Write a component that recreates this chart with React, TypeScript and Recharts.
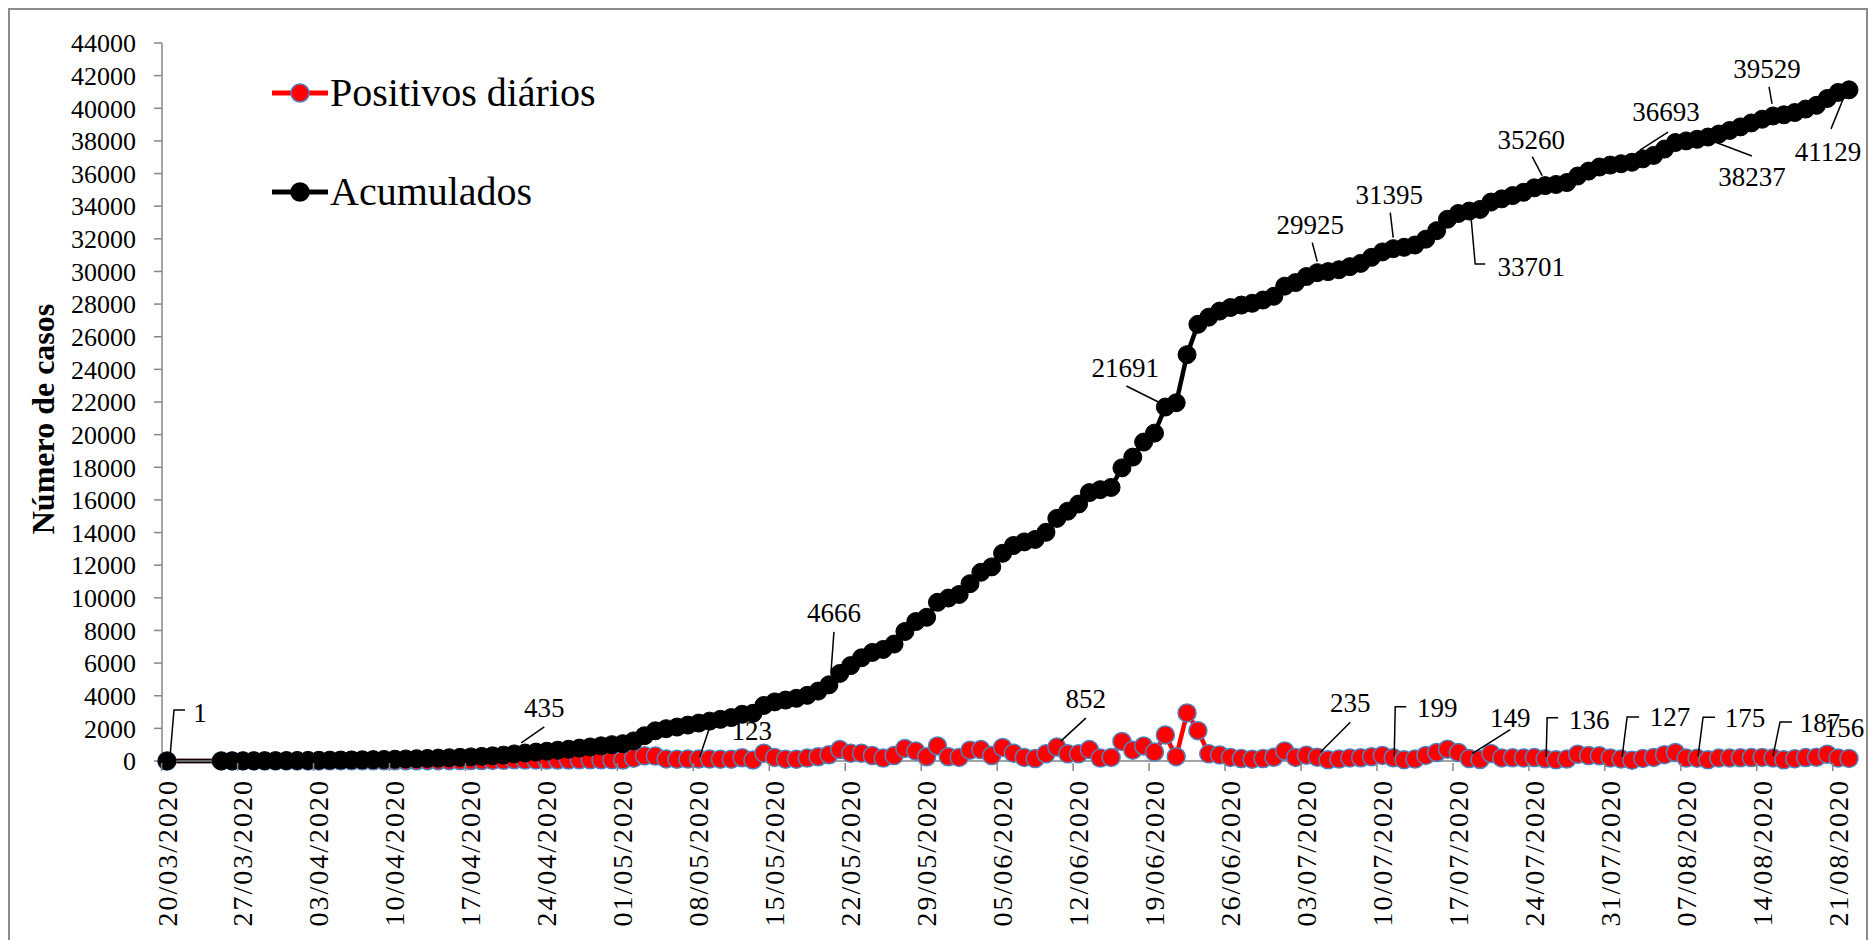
import React from "react";
import { LineChart, Line, XAxis, YAxis, LabelList } from "recharts";

const FONTE = "'Liberation Serif', 'Times New Roman', serif";

// um ponto por dia, de 20/03/2020 a 22/08/2020 (21 a 24/03 sem dados)
const datas: string[] = Array.from({ length: 156 }, (_, i) => {
  const d = new Date(2020, 2, 20 + i);
  const dd = String(d.getDate()).padStart(2, "0");
  const mm = String(d.getMonth() + 1).padStart(2, "0");
  return `${dd}/${mm}/${d.getFullYear()}`;
});

const positivosDiarios: (number | null)[] = [
  1, null, null, null, null, 4, 3, 4, 3, 3,
  4, 4, 4, 6, 6, 8, 8, 8, 9, 10,
  12, 13, 15, 15, 18, 20, 22, 25, 27, 30,
  36, 42, 75, 55, 55, 55, 60, 60, 70, 70,
  70, 70, 60, 170, 320, 300, 130, 100, 120, 123,
  120, 110, 110, 200, 60, 480, 220, 110, 110, 180,
  260, 383, 700, 480, 480, 330, 180, 330, 770, 610,
  260, 920, 260, 220, 660, 700, 330, 830, 480, 220,
  150, 440, 852, 440, 440, 700, 180, 220, 1200, 660,
  920, 548, 1600, 263, 2946, 1860, 440, 370, 220, 150,
  110, 150, 230, 620, 220, 360, 235, 70, 120, 190,
  200, 260, 340, 199, 80, 120, 340, 520, 720, 520,
  149, 90, 460, 190, 200, 190, 210, 136, 70, 120,
  420, 330, 320, 190, 127, 50, 160, 220, 390, 520,
  180, 175, 70, 180, 190, 200, 210, 220, 187, 70,
  140, 210, 230, 420, 190, 156,
];

const acumulados: (number | null)[] = [
  1, null, null, null, null, 5, 8, 12, 15, 18,
  22, 26, 30, 36, 42, 50, 58, 66, 75, 85,
  97, 110, 125, 140, 158, 178, 200, 225, 252, 282,
  318, 360, 435, 490, 545, 600, 660, 720, 790, 860,
  930, 1000, 1060, 1230, 1550, 1850, 1980, 2080, 2200, 2323,
  2443, 2553, 2663, 2863, 2923, 3403, 3623, 3733, 3843, 4023,
  4283, 4666, 5366, 5846, 6326, 6656, 6836, 7166, 7936, 8546,
  8806, 9726, 9986, 10206, 10866, 11566, 11896, 12726, 13206, 13426,
  13576, 14016, 14868, 15308, 15748, 16448, 16628, 16763, 17963, 18623,
  19543, 20091, 21691, 21954, 24900, 26760, 27200, 27570, 27790, 27940,
  28050, 28250, 28480, 29100, 29320, 29690, 29925, 29990, 30105, 30295,
  30495, 30866, 31196, 31395, 31480, 31620, 31980, 32500, 33200, 33552,
  33701, 33800, 34250, 34450, 34650, 34850, 35124, 35260, 35330, 35450,
  35850, 36150, 36400, 36520, 36600, 36693, 36900, 37110, 37500, 37900,
  38000, 38100, 38237, 38420, 38640, 38860, 39100, 39330, 39529, 39600,
  39740, 39950, 40180, 40600, 40973, 41129,
];

const ticksY = [
  0, 2000, 4000, 6000, 8000, 10000, 12000, 14000, 16000, 18000, 20000, 22000,
  24000, 26000, 28000, 30000, 32000, 34000, 36000, 38000, 40000, 42000, 44000,
];

const dados = datas.map((data, i) => ({
  data,
  positivos: positivosDiarios[i],
  acumulados: acumulados[i],
}));

// posição do texto e da linha de chamada, relativas ao ponto
type Rotulo = { tx: number; ty: number; linha?: number[][] };

const rotulosAcumulados: Record<number, Rotulo> = {
  0: { tx: 33, ty: -48, linha: [[3, -4], [7, -51], [18, -51]] },
  32: { tx: 30, ty: -46, linha: [[30, -27], [7, -11]] },
  61: { tx: 5, ty: -72, linha: [[5, -53], [2, -12]] },
  92: { tx: -40, ty: -39, linha: [[-39, -21], [-7, -5]] },
  106: { tx: -7, ty: -48, linha: [[-5, -30], [0, -11]] },
  113: { tx: -4, ty: -54, linha: [[-3, -36], [0, -11]] },
  120: { tx: 62, ty: 56, linha: [[2, 8], [6, 53], [16, 53]] },
  127: { tx: -14, ty: -46, linha: [[-13, -29], [-3, -10]] },
  135: { tx: 34, ty: -50, linha: [[36, -30], [8, -12]] },
  142: { tx: 44, ty: 40, linha: [[44, 19], [7, 5]] },
  148: { tx: -6, ty: -47, linha: [[-4, -29], [-1, -12]] },
  155: { tx: -21, ty: 62, linha: [[-18, 39], [-5, 7]] },
};

const rotulosPositivos: Record<number, Rotulo> = {
  49: { tx: 53, ty: -28, linha: [[1, -2], [11, -32], [21, -33]] },
  82: { tx: 29, ty: -48, linha: [[29, -29], [4, -6]] },
  106: { tx: 33, ty: -54, linha: [[33, -35], [3, -5]] },
  113: { tx: 44, ty: -50, linha: [[1, -2], [2, -51], [13, -51]] },
  120: { tx: 41, ty: -41, linha: [[41, -29], [3, -5]] },
  127: { tx: 44, ty: -39, linha: [[1, -2], [2, -41], [13, -41]] },
  134: { tx: 49, ty: -42, linha: [[1, -2], [6, -42], [18, -42]] },
  141: { tx: 48, ty: -40, linha: [[1, -2], [6, -41], [18, -41]] },
  148: { tx: 47, ty: -35, linha: [[0, -2], [7, -36], [19, -36]] },
  155: { tx: -5, ty: -30 },
};

const criarRotulo = (config: Record<number, Rotulo>) => (props: any) => {
  const { index, value } = props;
  const c = config[index];
  if (!c || value == null) return null;
  const x = props.viewBox?.x ?? props.x;
  const y = props.viewBox?.y ?? props.y;
  return (
    <g key={`rot-${index}`}>
      {c.linha && (
        <polyline
          points={c.linha.map(([a, b]) => `${x + a},${y + b}`).join(" ")}
          fill="none"
          stroke="#000"
          strokeWidth={1.5}
        />
      )}
      <text
        x={x + c.tx}
        y={y + c.ty}
        textAnchor="middle"
        dominantBaseline="central"
        fontFamily={FONTE}
        fontSize={27}
        fill="#000"
      >
        {value}
      </text>
    </g>
  );
};

const TickX = (props: any) => {
  const { x, y, payload } = props;
  return (
    <g>
      <line x1={x - 5.4} x2={x - 5.4} y1={y - 16} y2={y - 8} stroke="#868686" strokeWidth={1.5} />
      <text
        x={x}
        y={y}
        transform={`rotate(-90 ${x} ${y})`}
        textAnchor="end"
        dominantBaseline="central"
        fontFamily={FONTE}
        fontSize={28}
        letterSpacing={2}
        fill="#000"
      >
        {payload.value}
      </text>
    </g>
  );
};

const tituloY = () => (
  <text
    x={33}
    y={409}
    transform="rotate(-90 33 409)"
    textAnchor="middle"
    dominantBaseline="central"
    fontFamily={FONTE}
    fontWeight="bold"
    fontSize={32}
    fill="#000"
  >
    Número de casos
  </text>
);

const ItemLegenda = ({ cor, borda, texto, top }: { cor: string; borda: string; texto: string; top: number }) => (
  <div style={{ position: "absolute", left: 262, top: top - 22, height: 44, display: "flex", alignItems: "center" }}>
    <svg width={56} height={44}>
      <line x1={0} x2={56} y1={22} y2={22} stroke={cor} strokeWidth={5} />
      <circle cx={28} cy={22} r={9} fill={cor} stroke={borda} strokeWidth={1.5} />
    </svg>
    <span style={{ fontFamily: FONTE, fontSize: 40, marginLeft: 2, color: "#000", whiteSpace: "nowrap", lineHeight: "44px" }}>
      {texto}
    </span>
  </div>
);

export default function App() {
  return (
    <div
      style={{
        position: "relative",
        width: 1860,
        height: 940,
        border: "2px solid #8c8c8c",
        boxSizing: "border-box",
        background: "#fff",
      }}
    >
      <LineChart width={1856} height={925} data={dados} margin={{ top: 33, right: 12, left: 0, bottom: 4 }}>
        <XAxis
          dataKey="data"
          scale="point"
          padding={{ left: 5, right: 5 }}
          interval={6}
          height={170}
          tickSize={8}
          tickMargin={10}
          tickLine={false}
          axisLine={{ stroke: "#868686", strokeWidth: 1.5 }}
          tick={<TickX />}
        />
        <YAxis
          type="number"
          domain={[0, 44000]}
          ticks={ticksY}
          interval={0}
          width={152}
          tickSize={8}
          tickMargin={18}
          axisLine={{ stroke: "#868686", strokeWidth: 1.5 }}
          tickLine={{ stroke: "#868686", strokeWidth: 1.5 }}
          tick={{ fontFamily: FONTE, fontSize: 26, fill: "#000" }}
          label={tituloY}
        />
        <Line
          type="linear"
          dataKey="positivos"
          stroke="#FF0000"
          strokeWidth={4.5}
          dot={{ r: 9, fill: "#FF0000", stroke: "#4F81BD", strokeWidth: 1.5 }}
          activeDot={false}
          connectNulls
          isAnimationActive={false}
        />
        <Line
          type="linear"
          dataKey="acumulados"
          stroke="#000"
          strokeWidth={4.5}
          dot={{ r: 9, fill: "#000", stroke: "#000", strokeWidth: 1 }}
          activeDot={false}
          connectNulls
          isAnimationActive={false}
        />
        {/* rótulos por cima das duas séries */}
        <Line dataKey="positivos" stroke="none" dot={false} activeDot={false} legendType="none" isAnimationActive={false}>
          <LabelList dataKey="positivos" content={criarRotulo(rotulosPositivos)} />
        </Line>
        <Line dataKey="acumulados" stroke="none" dot={false} activeDot={false} legendType="none" isAnimationActive={false}>
          <LabelList dataKey="acumulados" content={criarRotulo(rotulosAcumulados)} />
        </Line>
      </LineChart>
      <ItemLegenda cor="#FF0000" borda="#4F81BD" texto="Positivos diários" top={83} />
      <ItemLegenda cor="#000" borda="#000" texto="Acumulados" top={182} />
    </div>
  );
}
